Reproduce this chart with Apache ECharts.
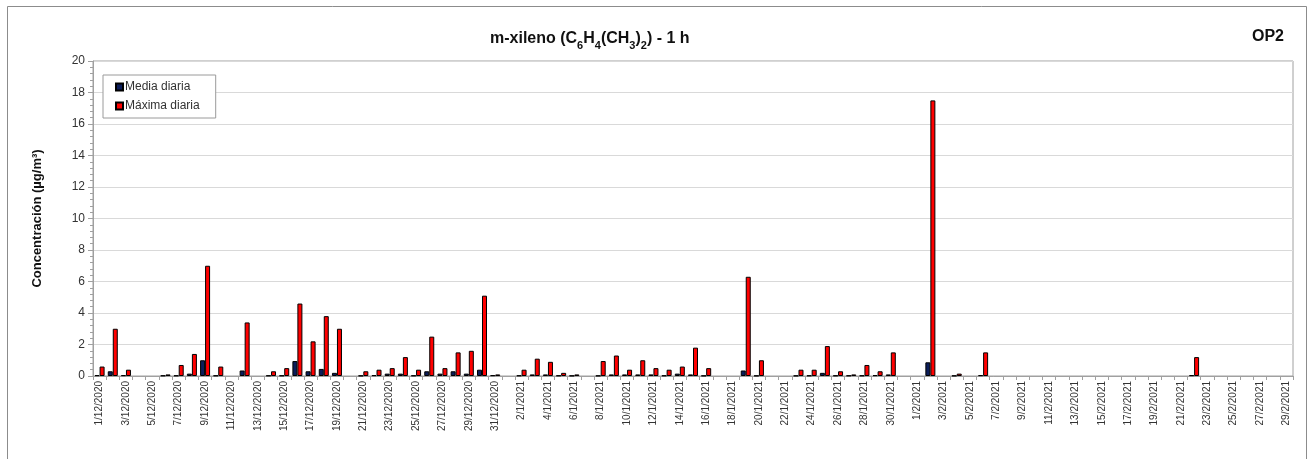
<!DOCTYPE html>
<html>
<head>
<meta charset="utf-8">
<script src="https://cdn.jsdelivr.net/npm/echarts@6/dist/echarts.min.js"></script>
<style>html,body{margin:0;padding:0;background:#fff}#c{width:1309px;height:459px}</style>
</head>
<body>
<div id="c"></div>
<script>
// Category labels: 1/12/2020 .. 31/12/2020, 1/1/2021 .. 31/1/2021, 1/2/2021 .. 29/2/2021
const decDays = 31, janDays = 31, febDays = 29;
const categories = [];
for (let d = 1; d <= decDays; d++) categories.push(d + '/12/2020');
for (let d = 1; d <= janDays; d++) categories.push(d + '/1/2021');
for (let d = 1; d <= febDays; d++) categories.push(d + '/2/2021');

// Media diaria (µg/m³), per day
const mediaDec = [0.05,0.3,0.05,null,null,0.03,0.03,0.15,1.0,0.03,null,0.35,null,0.03,0.03,0.95,0.3,0.45,0.2,null,0.02,0.05,0.15,0.15,0.03,0.3,0.15,0.3,0.15,0.4,0.05];
const mediaJan = [null,0.03,0.1,0.1,0.03,0.02,null,0.02,0.1,0.1,0.1,0.1,0.03,0.15,0.1,0.02,null,null,0.35,0.02,null,null,0.02,0.03,0.2,0.03,0.03,0.03,0.05,0.1,null];
const mediaFeb = [null,0.87,null,0.02,null,0.05,null,null,null,null,null,null,null,null,null,null,null,null,null,null,null,0.05,null,null,null,null,null,null,null];

// Máxima diaria (µg/m³), per day
const maxDec = [0.6,3.0,0.4,null,null,0.1,0.7,1.4,7.0,0.6,null,3.4,null,0.3,0.5,4.6,2.2,3.8,3.0,null,0.3,0.4,0.5,1.2,0.4,2.5,0.5,1.5,1.6,5.1,0.1];
const maxJan = [null,0.4,1.1,0.9,0.2,0.1,null,0.95,1.3,0.4,1.0,0.5,0.4,0.6,1.8,0.5,null,null,6.3,1.0,null,null,0.4,0.4,1.9,0.3,0.1,0.7,0.3,1.5,null];
const maxFeb = [null,17.5,null,0.15,null,1.5,null,null,null,null,null,null,null,null,null,null,null,null,null,null,null,1.2,null,null,null,null,null,null,null];

const media = mediaDec.concat(mediaJan, mediaFeb);
const maxima = maxDec.concat(maxJan, maxFeb);

const chart = echarts.init(document.getElementById('c'), null, {renderer: 'canvas'});
const FONT = "'Liberation Sans', Arial, sans-serif";
const NARROW = "'Liberation Sans Narrow', 'Liberation Sans', Arial, sans-serif";
chart.setOption({
  animation: false,
  backgroundColor: '#fff',
  graphic: [{
    type: 'rect', silent: true, z: -1,
    shape: {x: 7.5, y: 6.5, width: 1299, height: 470},
    style: {fill: 'none', stroke: '#8c8c8c', lineWidth: 1}
  }],
  title: [{
    left: 485, top: 22,
    text: '{t|m-xileno (C}{s|6}{t|H}{s|4}{t|(CH}{s|3}{t|)}{s|2}{t|) - 1 h}',
    textStyle: {
      rich: {
        t: {fontFamily: NARROW, fontWeight: 'bold', fontSize: 16, color: '#111', verticalAlign: 'bottom', lineHeight: 20},
        s: {fontFamily: NARROW, fontWeight: 'bold', fontSize: 11, color: '#111', verticalAlign: 'bottom', lineHeight: 14, padding: [0,0,-4,0]}
      }
    }
  }, {
    left: 1247, top: 24,
    text: 'OP2',
    textStyle: {fontFamily: NARROW, fontWeight: 'bold', fontSize: 16, color: '#111'}
  }],
  legend: {
    orient: 'vertical',
    left: 103, top: 75,
    padding: [6, 16, 6, 12],
    itemGap: 7,
    itemWidth: 7, itemHeight: 7,
    borderColor: '#9a9a9a', borderWidth: 1,
    backgroundColor: '#fff',
    icon: 'rect',
    textStyle: {fontFamily: FONT, fontSize: 12, color: '#333', padding: [0,0,0,-3]},
    data: ['Media diaria', 'Máxima diaria']
  },
  grid: {
    left: 93, right: 16, top: 61, bottom: 83,
    show: true, borderColor: '#a0a0a0', borderWidth: 1, backgroundColor: 'transparent'
  },
  xAxis: {
    type: 'category',
    data: categories,
    boundaryGap: true,
    axisLine: {lineStyle: {color: '#a0a0a0', width: 1}},
    axisTick: {show: true, interval: 0, length: 4, lineStyle: {color: '#a0a0a0'}},
    axisLabel: {interval: 1, rotate: 90, fontFamily: FONT, fontSize: 10, color: '#333', margin: 5}
  },
  yAxis: {
    type: 'value',
    min: 0, max: 20, interval: 2,
    name: 'Concentración (µg/m³)',
    nameLocation: 'middle',
    nameGap: 49,
    nameTextStyle: {fontFamily: FONT, fontWeight: 'bold', fontSize: 13, color: '#111'},
    axisLine: {show: true, lineStyle: {color: '#a0a0a0'}},
    axisTick: {show: true, length: 5, lineStyle: {color: '#a0a0a0'}},
    minorTick: {show: true, splitNumber: 5, length: 3, lineStyle: {color: '#a0a0a0'}},
    splitLine: {show: true, lineStyle: {color: '#d9d9d9', width: 1}},
    axisLabel: {fontFamily: FONT, fontSize: 12, color: '#333', margin: 8}
  },
  series: [{
    name: 'Media diaria',
    type: 'bar',
    data: media,
    barWidth: 5,
    barGap: '0%',
    itemStyle: {color: '#0b1d5a', borderColor: '#000', borderWidth: 1}
  }, {
    name: 'Máxima diaria',
    type: 'bar',
    data: maxima,
    barWidth: 5,
    itemStyle: {color: '#ff0000', borderColor: '#000', borderWidth: 1}
  }]
});
</script>
</body>
</html>
